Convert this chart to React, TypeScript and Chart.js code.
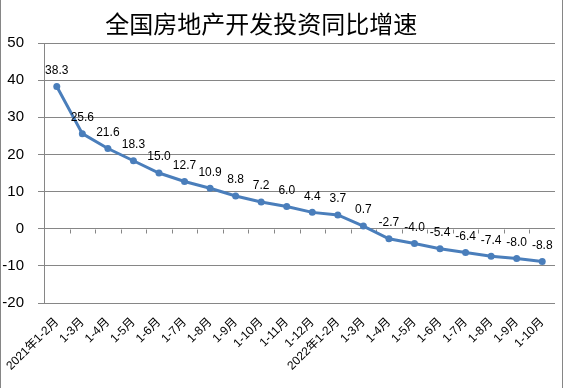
import React, { useEffect, useRef } from 'react';
import { Chart, registerables } from 'chart.js';

Chart.register(...registerables);

const TITLE = '全国房地产开发投资同比增速';
const categories = [
  '2021年1-2月', '1-3月', '1-4月', '1-5月', '1-6月', '1-7月', '1-8月', '1-9月', '1-10月', '1-11月', '1-12月',
  '2022年1-2月', '1-3月', '1-4月', '1-5月', '1-6月', '1-7月', '1-8月', '1-9月', '1-10月',
];
const growth = [38.3, 25.6, 21.6, 18.3, 15.0, 12.7, 10.9, 8.8, 7.2, 6.0, 4.4, 3.7, 0.7, -2.7, -4.0, -5.4, -6.4, -7.4, -8.0, -8.8];
const yMin = -20;
const yMax = 50;
const yStep = 10;

const LINE_COLOR = '#4A7EBB';
const GRID_COLOR = '#868686';
const SANS = '"Liberation Sans", Arial, "Noto Sans CJK SC", sans-serif';

const decorPlugin = {
  id: 'decor',
  beforeDatasetsDraw(chart: any) {
    const { ctx, scales } = chart;
    const xs = scales.x;
    const ys = scales.y;
    const y0 = Math.round(ys.getPixelForValue(0)) + 0.5;
    const n = categories.length;
    ctx.save();
    ctx.strokeStyle = GRID_COLOR;
    ctx.lineWidth = 1;
    ctx.beginPath();
    for (let i = 1; i < n; i++) {
      const x = Math.round(xs.left + (xs.width * i) / n) + 0.5;
      ctx.moveTo(x, y0);
      ctx.lineTo(x, y0 + 4);
    }
    ctx.stroke();
    ctx.restore();
  },
  afterDatasetsDraw(chart: any) {
    const { ctx } = chart;
    const meta = chart.getDatasetMeta(0);
    ctx.save();
    ctx.font = '12px ' + SANS;
    ctx.fillStyle = '#000';
    ctx.textAlign = 'center';
    ctx.textBaseline = 'middle';
    meta.data.forEach((pt: any, i: number) => {
      ctx.fillText(growth[i].toFixed(1), pt.x, pt.y - 16);
    });
    ctx.restore();
  },
  afterDraw(chart: any) {
    const { ctx, width, height } = chart;
    ctx.save();
    ctx.strokeStyle = GRID_COLOR;
    ctx.lineWidth = 1;
    ctx.beginPath();
    ctx.moveTo(0.5, 0);
    ctx.lineTo(0.5, height);
    ctx.moveTo(width - 1.5, 0);
    ctx.lineTo(width - 1.5, height);
    ctx.stroke();
    ctx.font = '24px "Noto Sans CJK SC", sans-serif';
    ctx.fillStyle = '#000';
    ctx.textAlign = 'center';
    ctx.textBaseline = 'middle';
    ctx.fillText(TITLE, width * 0.463, 24);
    ctx.restore();
  },
};

export default function App() {
  const ref = useRef<HTMLCanvasElement>(null);
  useEffect(() => {
    document.body.style.margin = '0';
    const chart = new Chart(ref.current as HTMLCanvasElement, {
      type: 'line',
      data: {
        labels: categories,
        datasets: [
          {
            data: growth,
            borderColor: LINE_COLOR,
            backgroundColor: LINE_COLOR,
            borderWidth: 3,
            pointRadius: 3.5,
            pointHoverRadius: 3.5,
            pointBorderWidth: 0,
            tension: 0,
          },
        ],
      },
      options: {
        responsive: false,
        animation: false,
        layout: { padding: { top: 43, right: 9, left: 0, bottom: 0 } },
        plugins: {
          legend: { display: false },
          tooltip: { enabled: false },
          title: { display: false },
        },
        scales: {
          x: {
            offset: true,
            grid: { display: false },
            border: { display: false },
            ticks: {
              autoSkip: false,
              maxRotation: 45,
              minRotation: 45,
              color: '#000',
              padding: 4,
              font: { family: SANS, size: 12 },
            },
            afterFit: (s: any) => {
              s.height = 85;
            },
          },
          y: {
            min: yMin,
            max: yMax,
            ticks: {
              stepSize: yStep,
              color: '#000',
              padding: 14,
              font: { family: SANS, size: 15 },
            },
            grid: { color: GRID_COLOR, tickLength: 6 },
            border: { color: GRID_COLOR },
            afterFit: (s: any) => {
              s.width = 44;
            },
          },
        },
      },
      plugins: [decorPlugin],
    } as any);
    return () => chart.destroy();
  }, []);
  return (
    <div style={{ width: 564, height: 388 }}>
      <canvas ref={ref} width={564} height={388} style={{ display: 'block' }} />
    </div>
  );
}
